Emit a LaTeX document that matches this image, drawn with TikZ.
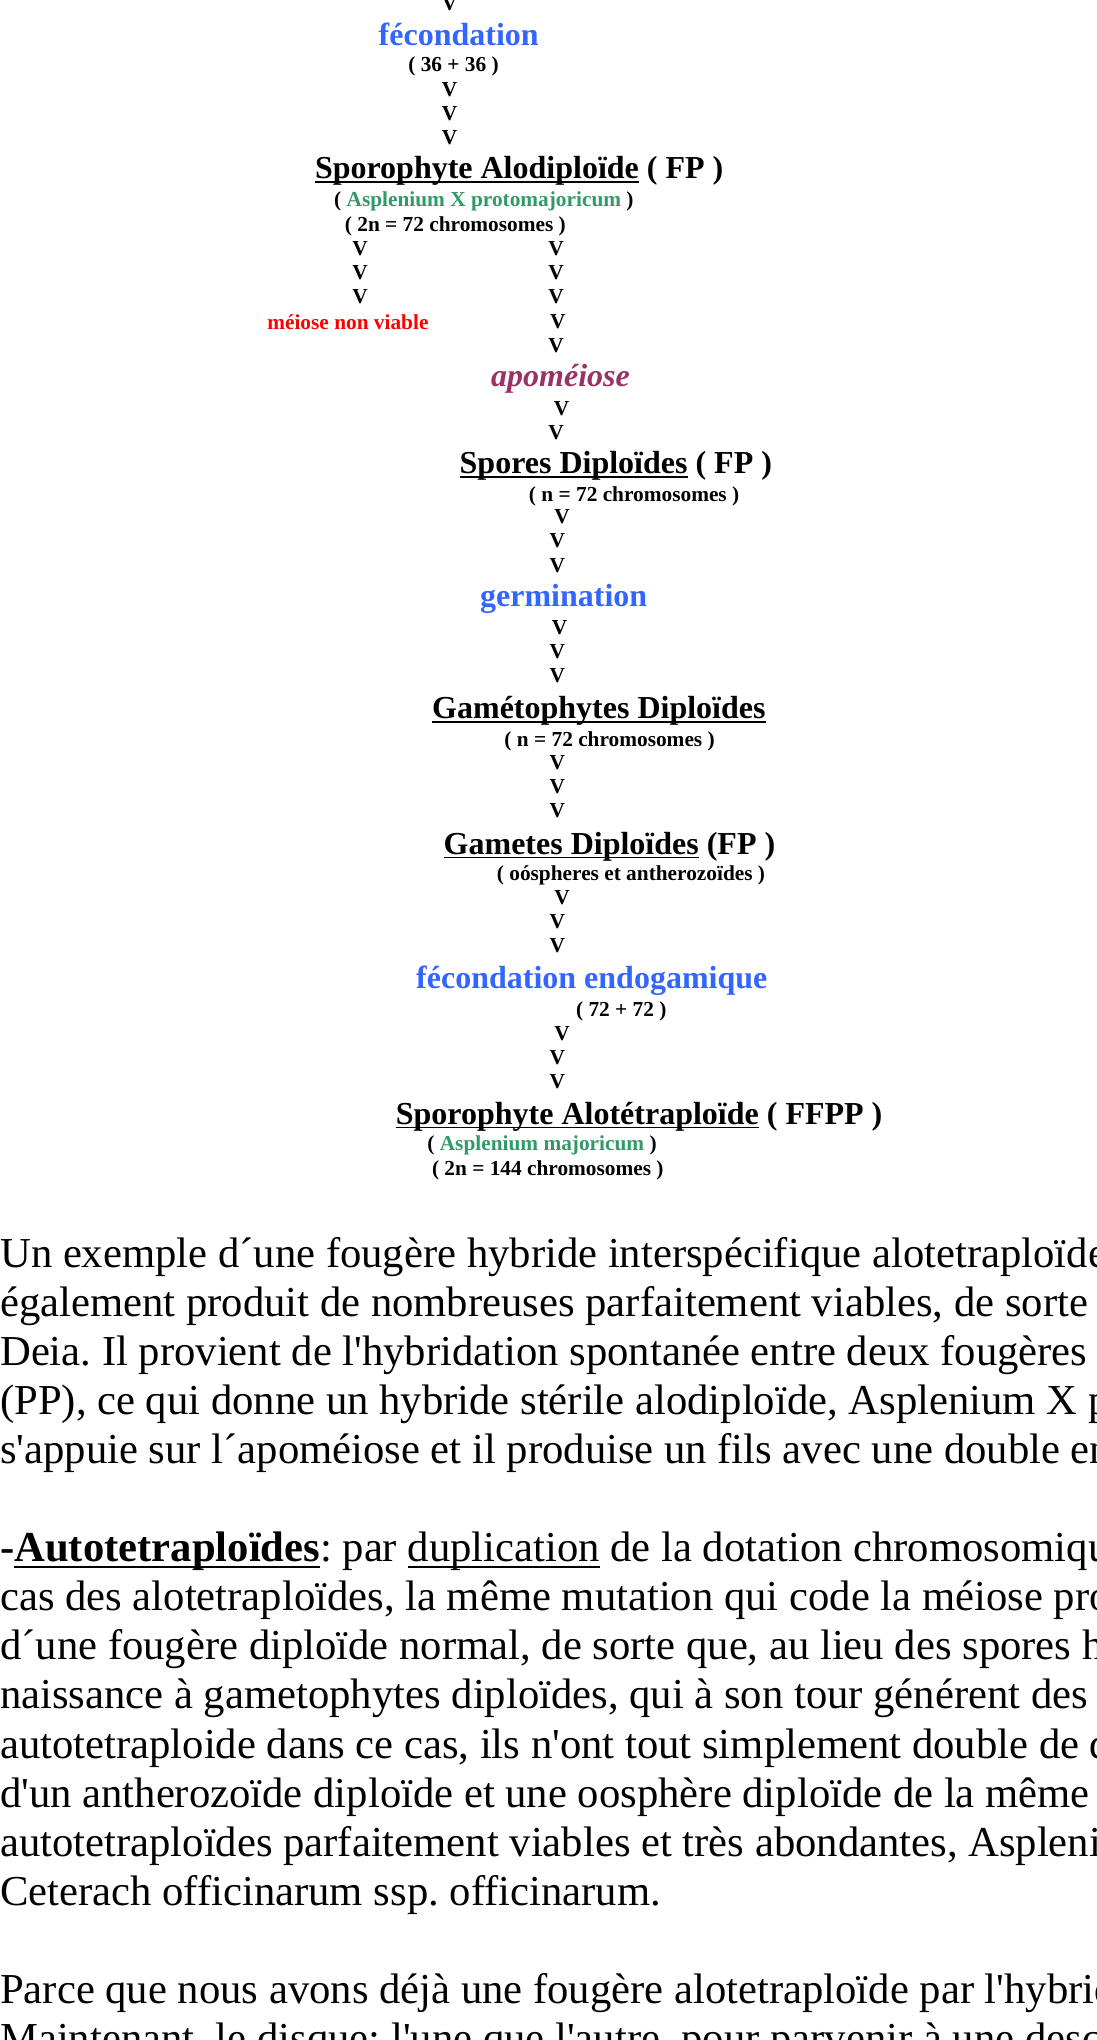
\documentclass[tikz,border=0pt]{standalone}
\usepackage{fontspec}
\setmainfont[Ligatures=TeXOff]{Liberation Serif}
\usepackage{xcolor}
\definecolor{fblue}{HTML}{3366FF}
\definecolor{fgreen}{HTML}{339966}
\definecolor{fpurple}{HTML}{993366}
\definecolor{fred}{HTML}{FF0000}
\newlength{\uldp}
\newlength{\ulth}
\newcommand{\undl}[1]{\setbox0=\hbox{#1}\rlap{\smash{\lower\uldp\hbox{\vrule width\wd0 height\ulth depth0pt}}}\box0\relax}
\frenchspacing

\begin{document}
\begin{tikzpicture}[x=1pt,y=-1pt,
    every node/.style={inner sep=0pt,anchor=base},
    big/.style={font=\fontsize{32}{36.8}\selectfont\bfseries\setlength{\uldp}{4.2pt}\setlength{\ulth}{1.6pt}},
    small/.style={font=\fontsize{21.33}{24.5}\selectfont\bfseries},
    body/.style={anchor=base west,font=\fontsize{42.67}{49.07}\selectfont\setlength{\uldp}{6.5pt}\setlength{\ulth}{2.2pt}}]
  \useasboundingbox (0,0) rectangle (1097,2040);
  \fill[white] (0,0) rectangle (1097,2040);
  \clip (0,0) rectangle (1097,2040);

  % cycle
  \node[big,fblue] (fec) at (458.7,45) {fécondation};
  \node[small] (fecsum) at (453.5,71.7) {( 36 + 36 )};
  \node[big,anchor=base west] (spa) at (314.8,178.3) {\undl{Sporophyte Alodiploïde} ( FP )};
  \node[small,anchor=base west] (spaname) at (334,206.7) {( \textcolor{fgreen}{Asplenium X protomajoricum} )};
  \node[small,anchor=base west] (spachr) at (344.7,231.7) {( 2n = 72 chromosomes )};
  \node[small,fred] (meiose) at (347.9,329.3) {méiose non viable};
  \node[big,fpurple,font=\fontsize{32}{36.8}\selectfont\bfseries\itshape] (apo) at (560.5,386.7) {apoméiose};
  \node[big,anchor=base west] (spores) at (459.5,473.3) {\undl{Spores Diploïdes} ( FP )};
  \node[small] (sporeschr) at (634.1,501) {( n = 72 chromosomes )};
  \node[big,fblue] (germ) at (563.7,606.7) {germination};
  \node[big] (gam) at (598.9,718.3) {\undl{Gamétophytes Diploïdes}};
  \node[small] (gamchr) at (609.6,746.7) {( n = 72 chromosomes )};
  \node[big,anchor=base west] (gametes) at (443.5,854) {\undl{Gametes Diploïdes} (FP )};
  \node[small] (gametestxt) at (631,880) {( oóspheres et antherozoïdes )};
  \node[big,fblue] (fecendo) at (591.8,988.3) {fécondation endogamique};
  \node[small] (fecendosum) at (621.3,1016.7) {( 72 + 72 )};
  \node[big,anchor=base west] (spt) at (395.7,1124) {\undl{Sporophyte Alotétraploïde} ( FFPP )};
  \node[small] (sptname) at (542,1150.7) {( \textcolor{fgreen}{Asplenium majoricum} )};
  \node[small] (sptchr) at (547.8,1175) {( 2n = 144 chromosomes )};

  % arrows
  \foreach \x/\y [count=\i] in {449.5/10, 449.5/96.7, 449.5/120.3, 449.5/144,
      360/255, 360/279.3, 360/303.3,
      556/255, 556/279.3, 556/303.3, 557.8/328.3, 556/352.3,
      561.6/415, 556/439.3,
      562.1/523.3, 557.2/547.3, 557.2/572.7,
      559.5/634, 557.2/658.3, 557.2/682.7,
      557.2/769.3, 557.2/793.3, 557.2/817.3,
      562.1/904, 557.2/928.3, 557.2/952.3,
      562.1/1040, 557.2/1064, 557.2/1088.3}
    \node[small] (v\i) at (\x,\y) {V};

  % text
  \foreach \t [count=\i from 0] in {%
      {Un exemple d´une fougère hybride interspécifique alotetraploïde},
      {également produit de nombreuses parfaitement viables, de sorte},
      {Deia. Il provient de l'hybridation spontanée entre deux fougères},
      {(PP), ce qui donne un hybride stérile alodiploïde, Asplenium X p},
      {s'appuie sur l´apoméiose et il produise un fils avec une double en},
      {},
      {\textbf{-\undl{Autotetraploïdes}}: par \undl{duplication} de la dotation chromosomique},
      {cas des alotetraploïdes, la même mutation qui code la méiose pro},
      {d´une fougère diploïde normal, de sorte que, au lieu des spores h},
      {naissance à gametophytes diploïdes, qui à son tour générent des},
      {autotetraploide dans ce cas, ils n'ont tout simplement double de d},
      {d'un antherozoïde diploïde et une oosphère diploïde de la même},
      {autotetraploïdes parfaitement viables et très abondantes, Aspleni},
      {Ceterach officinarum ssp. officinarum.},
      {},
      {Parce que nous avons déjà une fougère alotetraploïde par l'hybrid},
      {Maintenant, le disque: l'une que l'autre, pour parvenir à une desc}}
    \node[body] (l\i) at (0,1267.3+49.07*\i) {\t};
\end{tikzpicture}
\end{document}
